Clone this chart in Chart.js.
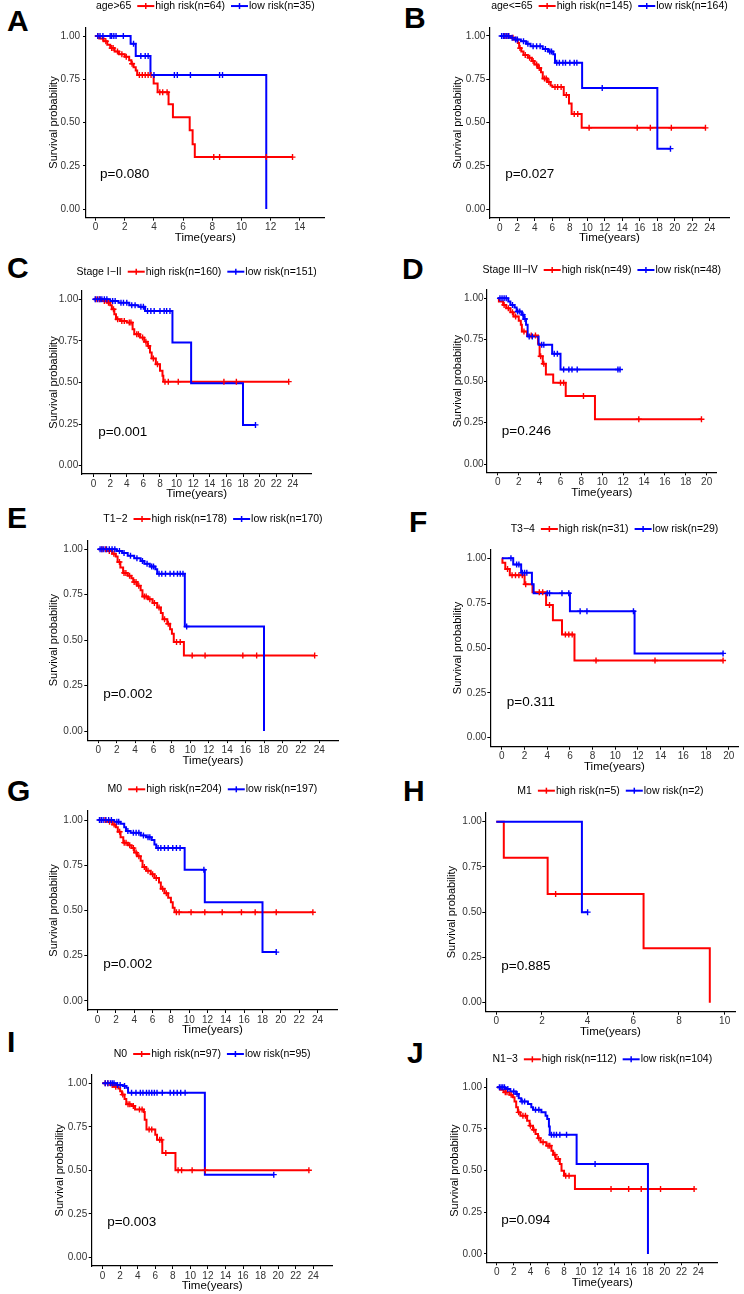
<!DOCTYPE html>
<html>
<head>
<meta charset="utf-8">
<title>Kaplan-Meier panels</title>
<script src="https://cdn.jsdelivr.net/npm/chart.js@4/dist/chart.umd.min.js"></script>
<style>
  body { margin: 0; background: #fff; width: 744px; height: 1294px; position: relative; overflow: hidden; }
  canvas { position: absolute; }
  .tag { position: absolute; font-family: "Liberation Sans", Arial, sans-serif; font-weight: bold; font-size: 30px; line-height: 30px; color: #000; }
</style>
</head>
<body>
<script>
// ---- data ----
const tags = ['A', 'B', 'C', 'D', 'E', 'F', 'G', 'H', 'I', 'J'];
const groups = ['age>65', 'age<=65', 'Stage I\u2212II', 'Stage III\u2212IV', 'T1\u22122', 'T3\u22124', 'M0', 'M1', 'N0', 'N1\u22123'];
const highN = [64, 145, 160, 49, 178, 31, 204, 5, 97, 112];
const lowN = [35, 164, 151, 48, 170, 29, 197, 2, 95, 104];
const pValues = ['0.080', '0.027', '0.001', '0.246', '0.002', '0.311', '0.002', '0.885', '0.003', '0.094'];

const ticks10 = [0, 2, 4, 6, 8, 10];
const ticks14 = [0, 2, 4, 6, 8, 10, 12, 14];
const ticks20 = [0, 2, 4, 6, 8, 10, 12, 14, 16, 18, 20];
const ticks24 = [0, 2, 4, 6, 8, 10, 12, 14, 16, 18, 20, 22, 24];
const yTicks = [0, 0.25, 0.5, 0.75, 1];

// A: age>65
const aHighTime = [0, 0.25, 0.55, 0.8, 1.0, 1.3, 1.6, 2.0, 2.3, 2.45, 2.6, 2.75, 2.85, 3.98, 4.25, 5.0, 5.3, 6.45, 6.65, 6.8];
const aHighSurv = [1, 0.985, 0.97, 0.95, 0.93, 0.91, 0.895, 0.88, 0.86, 0.84, 0.82, 0.80, 0.775, 0.725, 0.675, 0.605, 0.53, 0.455, 0.375, 0.30];
const aHighCens = [0.15, 0.5, 0.7, 1.1, 1.2, 1.5, 1.8, 2.1, 2.5, 3.0, 3.2, 3.4, 3.6, 3.8, 4.4, 4.6, 4.9, 8.1, 8.5, 11.7, 13.5];
const aLowTime = [0, 2.4, 2.75, 3.76, 11.7];
const aLowSurv = [1, 0.955, 0.885, 0.775, 0];
const aLowCens = [0.15, 0.3, 0.5, 1.0, 1.1, 1.25, 1.4, 1.9, 2.6, 3.1, 3.4, 3.6, 4.0, 5.4, 5.6, 6.5, 8.5, 8.7];

// B: age<=65
const bHighTime = [0, 1.3, 1.8, 2.05, 2.2, 2.45, 2.7, 3.2, 3.65, 3.95, 4.35, 4.7, 4.9, 5.4, 5.8, 6.0, 7.3, 7.9, 8.2, 9.35];
const bHighSurv = [1, 0.99, 0.975, 0.96, 0.93, 0.91, 0.89, 0.875, 0.855, 0.835, 0.815, 0.79, 0.755, 0.735, 0.715, 0.705, 0.66, 0.61, 0.55, 0.47];
const bHighCens = [0.5, 0.8, 1.0, 1.5, 2.3, 2.9, 3.4, 3.8, 4.2, 4.5, 5.1, 5.3, 5.6, 6.3, 6.6, 7.0, 7.6, 8.5, 8.9, 10.2, 15.7, 17.2, 19.6, 23.5];
const bLowTime = [0, 1.2, 1.6, 2.4, 3.0, 3.5, 4.9, 5.5, 6.1, 6.3, 9.4, 18.0];
const bLowSurv = [1, 0.99, 0.98, 0.97, 0.955, 0.94, 0.925, 0.91, 0.895, 0.845, 0.70, 0.35];
const bLowCens = [0.2, 0.4, 0.6, 0.8, 1.0, 1.4, 1.8, 2.0, 2.7, 3.2, 3.8, 4.2, 4.6, 5.2, 5.7, 5.9, 6.5, 6.8, 7.2, 7.5, 8.0, 8.5, 8.8, 11.7, 19.5];

// C: Stage I-II
const cHighTime = [0, 1.0, 1.6, 2.0, 2.2, 2.5, 2.7, 3.2, 4.0, 4.7, 4.9, 5.6, 6.1, 6.5, 6.8, 7.0, 7.5, 8.0, 8.3, 8.4];
const cHighSurv = [1, 0.99, 0.98, 0.965, 0.94, 0.91, 0.88, 0.87, 0.86, 0.82, 0.79, 0.77, 0.745, 0.72, 0.68, 0.645, 0.61, 0.57, 0.54, 0.505];
const cHighCens = [0.3, 0.7, 1.3, 1.8, 2.4, 2.9, 3.4, 3.7, 4.3, 4.5, 5.2, 5.4, 5.9, 6.3, 6.6, 7.2, 7.7, 8.6, 9.0, 10.2, 15.7, 17.2, 23.5];
const cLowTime = [0, 2.0, 3.0, 4.3, 5.4, 6.2, 9.5, 11.75, 18.0];
const cLowSurv = [1, 0.99, 0.98, 0.965, 0.955, 0.93, 0.74, 0.495, 0.245];
const cLowCens = [0.2, 0.5, 0.8, 1.0, 1.3, 1.6, 2.3, 2.6, 3.3, 3.6, 4.0, 4.6, 5.0, 5.7, 6.0, 6.5, 6.9, 7.3, 8.0, 8.5, 8.8, 9.2, 19.5];

// D: Stage III-IV
const dHighTime = [0, 0.1, 0.5, 0.8, 1.2, 1.5, 2.0, 2.2, 2.3, 2.8, 3.85, 4.0, 4.3, 4.6, 5.3, 6.5, 9.3];
const dHighSurv = [1, 0.98, 0.96, 0.94, 0.915, 0.89, 0.865, 0.84, 0.80, 0.775, 0.725, 0.65, 0.605, 0.54, 0.49, 0.41, 0.27];
const dHighCens = [0.6, 1.0, 1.4, 1.7, 2.5, 3.2, 3.6, 4.1, 4.4, 6.0, 6.3, 8.2, 13.5, 19.5];
const dLowTime = [0, 1.0, 1.2, 1.6, 1.8, 2.3, 2.5, 2.7, 2.85, 3.9, 5.2, 6.0];
const dLowSurv = [1, 0.98, 0.96, 0.945, 0.92, 0.90, 0.875, 0.84, 0.77, 0.72, 0.665, 0.57];
const dLowCens = [0.2, 0.4, 0.6, 0.8, 1.4, 1.9, 2.1, 2.4, 2.6, 3.0, 3.3, 4.2, 4.4, 5.4, 5.7, 6.3, 6.8, 7.1, 7.6, 11.5, 11.7];

// E: T1-2
const eHighTime = [0, 1.0, 1.5, 1.9, 2.1, 2.4, 2.7, 3.2, 3.6, 3.8, 4.2, 4.6, 4.8, 5.4, 5.9, 6.4, 6.8, 7.0, 7.5, 7.8, 8.0, 8.2, 9.3];
const eHighSurv = [1, 0.99, 0.975, 0.96, 0.93, 0.90, 0.87, 0.855, 0.84, 0.82, 0.80, 0.775, 0.74, 0.725, 0.705, 0.68, 0.65, 0.615, 0.59, 0.56, 0.535, 0.49, 0.415];
const eHighCens = [0.4, 0.8, 1.2, 1.7, 2.3, 2.8, 3.0, 3.4, 3.9, 4.1, 4.4, 5.0, 5.2, 5.6, 6.1, 6.6, 7.2, 7.6, 8.5, 8.9, 10.2, 11.6, 15.7, 17.2, 23.5];
const eLowTime = [0, 2.0, 2.6, 3.2, 3.9, 4.6, 5.0, 5.6, 6.2, 6.4, 9.4, 18.0];
const eLowSurv = [1, 0.99, 0.98, 0.965, 0.95, 0.935, 0.92, 0.905, 0.89, 0.865, 0.575, 0];
const eLowCens = [0.2, 0.4, 0.6, 0.9, 1.2, 1.5, 1.8, 2.3, 2.8, 3.5, 4.2, 4.8, 5.3, 5.8, 6.0, 6.6, 6.9, 7.3, 7.8, 8.2, 8.6, 8.9, 9.2, 9.6];

// F: T3-4
const fHighTime = [0, 0.05, 0.3, 0.7, 2.0, 2.7, 3.9, 4.5, 5.3, 6.4];
const fHighSurv = [1, 0.975, 0.94, 0.905, 0.855, 0.81, 0.74, 0.655, 0.575, 0.43];
const fHighCens = [0.5, 0.9, 1.2, 1.5, 1.8, 2.1, 3.3, 3.6, 4.2, 5.6, 5.9, 6.2, 8.3, 13.5, 19.5];
const fLowTime = [0, 1.0, 1.7, 2.65, 2.8, 6.0, 11.7];
const fLowSurv = [1, 0.965, 0.92, 0.855, 0.805, 0.705, 0.47];
const fLowCens = [0.8, 1.3, 1.5, 1.8, 2.0, 2.2, 4.0, 4.2, 5.3, 5.9, 6.9, 7.5, 11.6, 19.5];

// G: M0
const gHighTime = [0, 1.0, 1.6, 2.0, 2.2, 2.5, 2.8, 3.3, 3.7, 4.0, 4.3, 4.7, 4.9, 5.3, 5.8, 6.2, 6.7, 6.9, 7.3, 7.7, 8.0, 8.2, 8.4];
const gHighSurv = [1, 0.99, 0.975, 0.96, 0.935, 0.905, 0.875, 0.86, 0.845, 0.82, 0.80, 0.775, 0.74, 0.72, 0.70, 0.68, 0.655, 0.62, 0.595, 0.57, 0.545, 0.515, 0.49];
const gHighCens = [0.4, 0.8, 1.3, 1.8, 2.4, 2.9, 3.1, 3.5, 3.9, 4.2, 4.5, 5.1, 5.5, 6.0, 6.4, 7.1, 7.5, 8.6, 8.9, 10.2, 11.7, 13.6, 15.7, 17.2, 19.5, 23.5];
const gLowTime = [0, 1.8, 2.5, 2.9, 3.1, 3.6, 4.7, 5.3, 5.9, 6.2, 6.4, 9.5, 11.7, 18.0];
const gLowSurv = [1, 0.99, 0.98, 0.96, 0.94, 0.93, 0.915, 0.905, 0.89, 0.865, 0.845, 0.725, 0.545, 0.27];
const gLowCens = [0.2, 0.4, 0.6, 0.9, 1.2, 1.5, 2.1, 2.3, 3.3, 3.9, 4.2, 4.5, 5.0, 5.5, 5.7, 6.6, 6.9, 7.3, 7.7, 8.2, 8.6, 9.0, 11.6, 19.5];

// H: M1
const hHighTime = [0, 0.33, 2.25, 6.45, 9.35];
const hHighSurv = [1, 0.80, 0.60, 0.30, 0];
const hHighCens = [2.6];
const hLowTime = [0, 3.75];
const hLowSurv = [1, 0.5];
const hLowCens = [4.0];

// I: N0
const iHighTime = [0, 0.9, 1.3, 1.8, 2.0, 2.2, 2.5, 2.7, 3.3, 3.7, 4.7, 4.8, 5.0, 6.0, 6.2, 6.8, 8.3];
const iHighSurv = [1, 0.99, 0.98, 0.97, 0.955, 0.935, 0.91, 0.88, 0.87, 0.85, 0.835, 0.79, 0.735, 0.705, 0.675, 0.60, 0.50];
const iHighCens = [0.3, 0.6, 1.1, 1.5, 2.3, 2.9, 3.1, 3.5, 4.2, 4.5, 5.3, 5.6, 6.5, 6.7, 7.2, 8.6, 9.0, 10.2, 11.7, 23.5];
const iLowTime = [0, 1.5, 2.3, 2.7, 2.9, 11.65];
const iLowSurv = [1, 0.99, 0.985, 0.975, 0.945, 0.475];
const iLowCens = [0.3, 0.6, 0.9, 1.1, 1.3, 1.7, 2.0, 2.5, 3.3, 3.8, 4.3, 4.6, 5.0, 5.3, 5.6, 5.9, 6.2, 6.8, 7.7, 8.1, 8.5, 8.9, 9.4, 19.5];

// J: N1-3
const jHighTime = [0, 0.4, 0.8, 1.5, 1.9, 2.1, 2.3, 2.5, 2.8, 3.6, 3.9, 4.3, 4.6, 4.9, 5.2, 5.9, 6.5, 6.7, 7.0, 7.5, 7.7, 8.0, 9.3];
const jHighSurv = [1, 0.985, 0.97, 0.955, 0.94, 0.915, 0.88, 0.85, 0.83, 0.80, 0.77, 0.745, 0.72, 0.695, 0.67, 0.65, 0.62, 0.595, 0.57, 0.54, 0.50, 0.47, 0.39];
const jHighCens = [1.0, 1.2, 1.7, 2.6, 3.1, 3.4, 4.0, 4.4, 5.0, 5.5, 6.1, 6.3, 6.9, 7.3, 8.2, 8.6, 13.6, 15.7, 17.2, 19.5, 23.5];
const jLowTime = [0, 1.0, 1.6, 2.3, 2.6, 2.9, 3.7, 4.1, 4.3, 5.3, 5.8, 6.0, 6.2, 6.3, 9.5, 18.0];
const jLowSurv = [1, 0.99, 0.975, 0.96, 0.935, 0.915, 0.90, 0.88, 0.865, 0.85, 0.83, 0.81, 0.765, 0.715, 0.54, 0];
const jLowCens = [0.3, 0.5, 0.7, 0.9, 1.3, 2.0, 2.4, 3.0, 3.3, 4.6, 5.0, 6.5, 6.8, 7.1, 7.5, 8.3, 11.7];

// last follow-up time of each curve
const highEnd = [13.5, 23.5, 23.5, 19.5, 23.5, 19.5, 23.5, 9.35, 23.5, 23.5];
const lowEnd = [11.7, 19.5, 19.5, 11.7, 18.0, 19.5, 19.5, 4.0, 19.5, 18.0];

// ---- layout of each panel on the page ----
// plot box (l,t,r,b), x range, y title distance, y label padding, p-value x, legend offset, tag position
const layouts = [
  { l: 86, t: 27.35, r: 326.7, b: 217.65, xmin: -0.66, xmax: 15.7, yGap: 32, tp: 3, px: 0.3, legDy: 21.3, tx: 7, ty: 10, xt: ticks14 },
  { l: 489.3, t: 27.3, r: 732, b: 218, xmin: -1.21, xmax: 26.26, yGap: 31.3, tp: 1, px: 0.6, legDy: 21.3, tx: 404, ty: 7, xt: ticks24 },
  { l: 81.7, t: 291, r: 314, b: 474, xmin: -1.43, xmax: 26.26, yGap: 27.7, tp: 0.5, px: 0.55, legDy: 19.3, tx: 7, ty: 257, xt: ticks24 },
  { l: 487, t: 290, r: 718.7, b: 472.3, xmin: -1.04, xmax: 20.95, yGap: 29, tp: 0.5, px: 0.38, legDy: 20, tx: 402, ty: 258, xt: ticks20 },
  { l: 87.3, t: 540.2, r: 340.7, b: 740.1, xmin: -1.19, xmax: 26.1, yGap: 33.3, tp: 1.5, px: 0.54, legDy: 21.2, tx: 7, ty: 507, xt: ticks24 },
  { l: 490.3, t: 549.3, r: 740.3, b: 746.7, xmin: -1.02, xmax: 20.87, yGap: 32.3, tp: 1, px: 0.44, legDy: 20.3, tx: 409, ty: 511, xt: ticks20 },
  { l: 87.3, t: 811, r: 340, b: 1010, xmin: -1.13, xmax: 26.2, yGap: 33.3, tp: 1.5, px: 0.6, legDy: 21.7, tx: 7, ty: 780, xt: ticks24 },
  { l: 485.3, t: 812.6, r: 737.7, b: 1011.7, xmin: -0.48, xmax: 10.48, yGap: 33.3, tp: 0.5, px: 0.22, legDy: 21.9, tx: 403, ty: 780, xt: ticks10 },
  { l: 91.7, t: 1074.6, r: 334.3, b: 1266, xmin: -1.24, xmax: 26.2, yGap: 31.7, tp: 1.5, px: 0.52, legDy: 20.6, tx: 7, ty: 1031, xt: ticks24 },
  { l: 487, t: 1079, r: 719.7, b: 1262.3, xmin: -1.18, xmax: 26.3, yGap: 31.7, tp: 2, px: 0.51, legDy: 19.7, tx: 407, ty: 1042, xt: ticks24 }
];

const curves = [
  [aHighTime, aHighSurv, aHighCens, aLowTime, aLowSurv, aLowCens],
  [bHighTime, bHighSurv, bHighCens, bLowTime, bLowSurv, bLowCens],
  [cHighTime, cHighSurv, cHighCens, cLowTime, cLowSurv, cLowCens],
  [dHighTime, dHighSurv, dHighCens, dLowTime, dLowSurv, dLowCens],
  [eHighTime, eHighSurv, eHighCens, eLowTime, eLowSurv, eLowCens],
  [fHighTime, fHighSurv, fHighCens, fLowTime, fLowSurv, fLowCens],
  [gHighTime, gHighSurv, gHighCens, gLowTime, gLowSurv, gLowCens],
  [hHighTime, hHighSurv, hHighCens, hLowTime, hLowSurv, hLowCens],
  [iHighTime, iHighSurv, iHighCens, iLowTime, iLowSurv, iLowCens],
  [jHighTime, jHighSurv, jHighCens, jLowTime, jLowSurv, jLowCens]
];

const RED = '#ff0000';
const BLUE = '#0000ff';
const FONT = '"Liberation Sans", Arial, sans-serif';
const TOP = 30;      // room for the legend above the plot
const XH = 27.2;     // height given to the x axis (ticks + title)
const TITLE_HALF = 6.6;

Chart.defaults.font.family = FONT;

// step points of a KM curve, plus a flat tail to the last follow-up
function stepPoints(time, surv, end) {
  const pts = time.map((t, i) => ({ x: t, y: surv[i] }));
  const last = time[time.length - 1];
  if (end > last) pts.push({ x: end, y: surv[surv.length - 1] });
  return pts;
}

// censor marks sit on the curve level at their time
function censorPoints(time, surv, cens) {
  return cens.map(c => {
    let level = surv[0];
    for (let i = 0; i < time.length; i++) {
      if (time[i] <= c) level = surv[i];
    }
    return { x: c, y: level };
  });
}

function drawMarker(ctx, x, y, color) {
  ctx.strokeStyle = color;
  ctx.lineWidth = 2;
  ctx.beginPath();
  ctx.moveTo(x, y);
  ctx.lineTo(x + 17, y);
  ctx.stroke();
  ctx.lineWidth = 1.5;
  ctx.beginPath();
  ctx.moveTo(x + 8.5, y - 3);
  ctx.lineTo(x + 8.5, y + 3);
  ctx.stroke();
}

// legend row above the plot and the p-value inside it
const kmText = {
  id: 'kmText',
  afterDraw(chart, args, opts) {
    const { ctx, chartArea, scales } = chart;
    ctx.save();
    ctx.textBaseline = 'middle';
    ctx.textAlign = 'left';
    ctx.fillStyle = '#000';

    ctx.font = '13.5px ' + FONT;
    ctx.fillText('p=' + opts.p, scales.x.getPixelForValue(opts.px), scales.y.getPixelForValue(0.2));

    ctx.font = '10.5px ' + FONT;
    const items = [opts.group, opts.high, opts.low];
    const widths = items.map(s => ctx.measureText(s).width);
    const total = widths[0] + 6 + 17 + 1 + widths[1] + 6 + 17 + 1 + widths[2];
    let x = (chartArea.left + chartArea.right) / 2 - total / 2;
    const y = chartArea.top - opts.legDy;
    ctx.fillText(items[0], x, y);
    x += widths[0] + 6;
    drawMarker(ctx, x, y, RED);
    x += 18;
    ctx.fillText(items[1], x, y);
    x += widths[1] + 6;
    drawMarker(ctx, x, y, BLUE);
    x += 18;
    ctx.fillText(items[2], x, y);
    ctx.restore();
  }
};

layouts.forEach((lay, k) => {
  const [hT, hS, hC, lT, lS, lC] = curves[k];
  const YW = lay.yGap + TITLE_HALF;
  const cx = Math.round(lay.l - YW);
  const cy = Math.round(lay.t - TOP);
  const w = Math.ceil(lay.r - cx + 2);
  const h = Math.ceil(lay.b - cy + XH + 2);

  const canvas = document.createElement('canvas');
  canvas.width = w;
  canvas.height = h;
  canvas.style.left = cx + 'px';
  canvas.style.top = cy + 'px';
  canvas.style.width = w + 'px';
  canvas.style.height = h + 'px';
  document.body.appendChild(canvas);

  const tag = document.createElement('div');
  tag.className = 'tag';
  tag.textContent = tags[k];
  tag.style.left = lay.tx + 'px';
  tag.style.top = (lay.ty - 3.9) + 'px';
  document.body.appendChild(tag);

  const censorStyle = { showLine: false, pointStyle: 'cross', pointRadius: 3, pointHoverRadius: 3, pointBorderWidth: 1.4 };
  const lineStyle = { stepped: true, pointRadius: 0, pointHoverRadius: 0, borderWidth: 2, fill: false, borderJoinStyle: 'miter' };

  new Chart(canvas, {
    type: 'line',
    data: {
      datasets: [
        { ...censorStyle, data: censorPoints(lT, lS, lC), borderColor: BLUE, backgroundColor: BLUE },
        { ...censorStyle, data: censorPoints(hT, hS, hC), borderColor: RED, backgroundColor: RED },
        { ...lineStyle, data: stepPoints(lT, lS, lowEnd[k]), borderColor: BLUE },
        { ...lineStyle, data: stepPoints(hT, hS, highEnd[k]), borderColor: RED }
      ]
    },
    options: {
      responsive: false,
      animation: false,
      events: [],
      devicePixelRatio: 1,
      layout: {
        padding: {
          left: lay.l - YW - cx,
          top: lay.t - cy,
          right: w - (lay.r - cx),
          bottom: h - (lay.b - cy) - XH
        }
      },
      plugins: {
        legend: { display: false },
        tooltip: { enabled: false },
        kmText: {
          p: pValues[k], px: lay.px, legDy: lay.legDy, group: groups[k],
          high: 'high risk(n=' + highN[k] + ')', low: 'low risk(n=' + lowN[k] + ')'
        }
      },
      scales: {
        x: {
          type: 'linear',
          min: lay.xmin,
          max: lay.xmax,
          afterBuildTicks: s => { s.ticks = lay.xt.map(v => ({ value: v })); },
          afterFit: s => { s.height = XH; },
          grid: { drawOnChartArea: false, drawTicks: true, tickLength: 3, color: '#000', lineWidth: 1 },
          border: { display: true, color: '#000', width: 1.2 },
          ticks: { font: { size: 10 }, color: '#333', padding: 1, maxRotation: 0, autoSkip: false },
          title: { display: true, text: 'Time(years)', font: { size: 11.5 }, color: '#000', padding: 0 }
        },
        y: {
          type: 'linear',
          min: -0.05,
          max: 1.05,
          afterBuildTicks: s => { s.ticks = yTicks.map(v => ({ value: v })); },
          afterFit: s => { s.width = YW; },
          grid: { drawOnChartArea: false, drawTicks: true, tickLength: 3, color: '#000', lineWidth: 1 },
          border: { display: true, color: '#000', width: 1.2 },
          ticks: { font: { size: 10 }, color: '#333', padding: lay.tp, callback: v => Number(v).toFixed(2) },
          title: { display: true, text: 'Survival probability', font: { size: 11 }, color: '#000', padding: 0 }
        }
      }
    },
    plugins: [kmText]
  });
});
</script>
</body>
</html>
